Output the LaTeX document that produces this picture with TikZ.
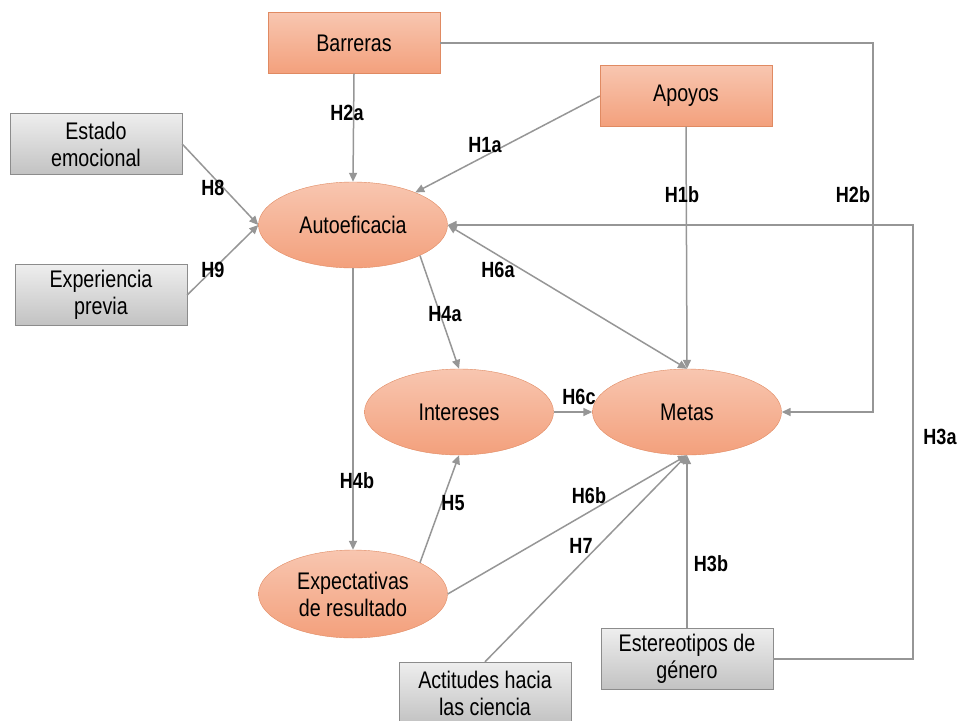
\documentclass[tikz,border=0pt]{standalone}
\usepackage{fontspec}
\setmainfont{Liberation Sans}[FakeStretch=0.82]
\usepackage{xcolor}
\usetikzlibrary{shapes.geometric,arrows.meta}

\definecolor{salmontop}{RGB}{248,198,176}
\definecolor{salmonbot}{RGB}{243,160,124}
\definecolor{salmonline}{RGB}{224,138,98}
\definecolor{greytop}{RGB}{238,238,238}
\definecolor{greybot}{RGB}{194,194,194}
\definecolor{greyline}{RGB}{140,140,140}
\definecolor{linkgrey}{RGB}{150,150,150}

\tikzset{
  factor/.style={rectangle, draw=salmonline, top color=salmontop, bottom color=salmonbot,
    minimum width=172pt, minimum height=61pt, align=center, font=\fontsize{24}{27}\selectfont},
  extra/.style={rectangle, draw=greyline, top color=greytop, bottom color=greybot,
    minimum width=172pt, minimum height=61pt, align=center, font=\fontsize{24}{27}\selectfont},
  construct/.style={ellipse, draw=salmonline, top color=salmontop, bottom color=salmonbot,
    minimum width=189pt, minimum height=86pt, inner sep=0pt, align=center, font=\fontsize{24}{27}\selectfont},
  link/.style={draw=linkgrey, line width=1.5pt, -{Triangle[length=9pt,width=8pt]}},
  hyp/.style={font=\fontsize{22}{24}\selectfont\bfseries}
}

\begin{document}
\begin{tikzpicture}[x=1pt, y=-1pt]
  \useasboundingbox (0,0) rectangle (968,720);

  \node[factor] (barreras) at (354,43) {Barreras};
  \node[factor] (apoyos) at (686,96) {Apoyos};
  \node[extra] (estado) at (96,144) {Estado\\emocional};
  \node[extra] (experiencia) at (101,295) {Experiencia\\previa};
  \node[construct] (autoef) at (353,225) {Autoeficacia};
  \node[construct] (intereses) at (459,412) {Intereses};
  \node[construct] (metas) at (687,412) {Metas};
  \node[construct, minimum height=88pt] (expect) at (353,594) {Expectativas\\de resultado};
  \node[extra, minimum height=62pt] (actitudes) at (485,693) {Actitudes hacia\\las ciencia};
  \node[extra] (estereotipos) at (687,659) {Estereotipos de\\género};

  \coordinate (h2bx) at (873,0);
  \coordinate (h3ax) at (913,0);

  \draw[link] (barreras.south) -- (autoef.north);
  \draw[link] (barreras.east) -- (barreras.east -| h2bx) |- (metas.east);
  \draw[link] (apoyos.west) -- (autoef);
  \draw[link] (apoyos.south) -- (metas.north);
  \draw[link] (estado.east) -- (autoef.west);
  \draw[link] (experiencia.east) -- (autoef.west);
  \draw[link, {Triangle[length=9pt,width=8pt]}-{Triangle[length=9pt,width=8pt]}] (autoef.east) -- (metas.north);
  \draw[link] (autoef.south east) -- (intereses.north);
  \draw[link] (autoef.south) -- (expect.north);
  \draw[link] (intereses.east) -- (metas.west);
  \draw[link] (expect.north east) -- (intereses.south);
  \draw[link] (expect.east) -- (metas.south);
  \draw[link] (actitudes.north) -- (metas.south);
  \draw[link] (estereotipos.north) -- (metas.south);
  \draw[link] (estereotipos.east) -- (estereotipos.east -| h3ax) |- (autoef.east);

  \node[hyp] (l2a) at (347,113) {H2a};
  \node[hyp] (l2b) at (853,195) {H2b};
  \node[hyp] (l1a) at (485,145) {H1a};
  \node[hyp] (l1b) at (682,195) {H1b};
  \node[hyp] (l8) at (213,188) {H8};
  \node[hyp] (l9) at (213,270) {H9};
  \node[hyp] (l6a) at (498,270) {H6a};
  \node[hyp] (l4a) at (445,314) {H4a};
  \node[hyp] (l6c) at (579,397) {H6c};
  \node[hyp] (l4b) at (357,481) {H4b};
  \node[hyp] (l5) at (453,503) {H5};
  \node[hyp] (l6b) at (589,496) {H6b};
  \node[hyp] (l7) at (581,546) {H7};
  \node[hyp] (l3b) at (711,564) {H3b};
  \node[hyp] (l3a) at (940,437) {H3a};
\end{tikzpicture}
\end{document}
